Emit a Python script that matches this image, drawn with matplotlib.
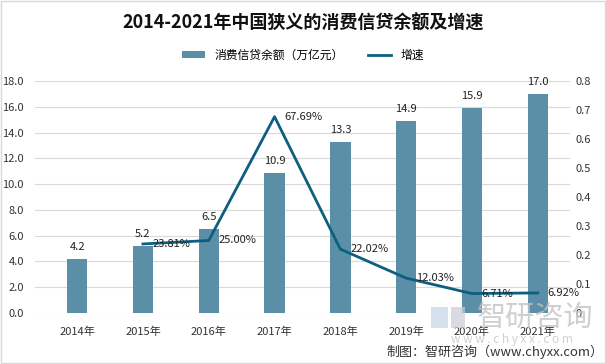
import matplotlib.pyplot as plt
from matplotlib.ticker import MultipleLocator, FuncFormatter
from matplotlib.patches import Rectangle

plt.rcParams['font.family'] = ['Noto Sans CJK SC', 'DejaVu Sans']

years = ['2014年', '2015年', '2016年', '2017年', '2018年', '2019年', '2020年', '2021年']
balance = [4.2, 5.2, 6.5, 10.9, 13.3, 14.9, 15.9, 17.0]
growth_years = [1, 2, 3, 4, 5, 6, 7]
growth = [0.2381, 0.2500, 0.6769, 0.2202, 0.1203, 0.0671, 0.0692]

bar_color = '#5b8fa7'
line_color = '#0c5f7f'

fig = plt.figure(figsize=(6.06, 3.64), dpi=100)
ax = fig.add_axes([0.0578, 0.1401, 0.8828, 0.6374])
ax2 = ax.twinx()

x = range(len(years))
bars = ax.bar(x, balance, width=0.31, color=bar_color, zorder=2, label='消费信贷余额（万亿元）')
for xi, v in zip(x, balance):
    ax.annotate(f'{v:.1f}', (xi, v), xytext=(0, 5), textcoords='offset points',
                ha='center', va='bottom', fontsize=8, color='#222222')

line, = ax2.plot(growth_years, growth, color=line_color, lw=2.0, zorder=3, label='增速')
for xi, g in zip(growth_years, growth):
    ax2.annotate(f'{g*100:.2f}%', (xi, g), xytext=(7, 0), textcoords='offset points',
                 ha='left', va='center', fontsize=8, color='#222222')

ax.set_xlim(-0.64, 7.49)
ax.set_ylim(0, 18)
ax2.set_ylim(0, 0.8)
ax.yaxis.set_major_locator(MultipleLocator(2))
ax.yaxis.set_major_formatter(FuncFormatter(lambda v, p: f'{v:.1f}'))
ax2.yaxis.set_major_locator(MultipleLocator(0.1))
ax2.yaxis.set_major_formatter(FuncFormatter(lambda v, p: '0' if abs(v) < 1e-9 else f'{v:.1f}'))
ax.set_xticks(list(x))
ax.set_xticklabels(years)

for a in (ax, ax2):
    for s in a.spines.values():
        s.set_visible(False)
    a.tick_params(length=0, labelsize=8, colors='#333333')
ax.tick_params(axis='x', pad=10)
ax.tick_params(axis='y', pad=8)
ax2.tick_params(axis='y', pad=4)
ax.grid(axis='y', color='#d9d9d9', lw=0.8, zorder=0)
ax.set_axisbelow(True)

fig.text(0.5, 0.937, '2014-2021年中国狭义的消费信贷余额及增速', ha='center', va='center',
         fontsize=13, fontweight='bold', color='#111111')
fig.legend(handles=[bars, line], loc='center', bbox_to_anchor=(0.5, 0.849), ncol=2,
           frameon=False, fontsize=8.5, handlelength=2.0, handleheight=0.5, columnspacing=2.0)

# watermark: logo blocks + name + site
fig.patches.append(Rectangle((0.712, 0.098), 0.028, 0.058, transform=fig.transFigure,
                             facecolor='#c5d3e6', edgecolor='none', alpha=0.7))
fig.patches.append(Rectangle((0.745, 0.098), 0.022, 0.058, transform=fig.transFigure,
                             facecolor='#c8cdd6', edgecolor='none', alpha=0.7))
fig.text(0.883, 0.126, '智研咨询', ha='center', va='center', fontsize=21, color='#c4c4c4', alpha=0.8)
fig.text(0.845, 0.066, 'w w w . c h y x x . c o m', ha='center', va='center', fontsize=8.5, color='#d0d0d0')
fig.text(0.995, 0.033, '制图：智研咨询（www.chyxx.com）', ha='right', va='center', fontsize=9.4, color='#333333')

fig.patches.append(Rectangle((0.001, 0.002), 0.997, 0.995, transform=fig.transFigure,
                             fill=False, edgecolor='#d9d9d9', lw=1))

fig.savefig('out.png', dpi=100)
